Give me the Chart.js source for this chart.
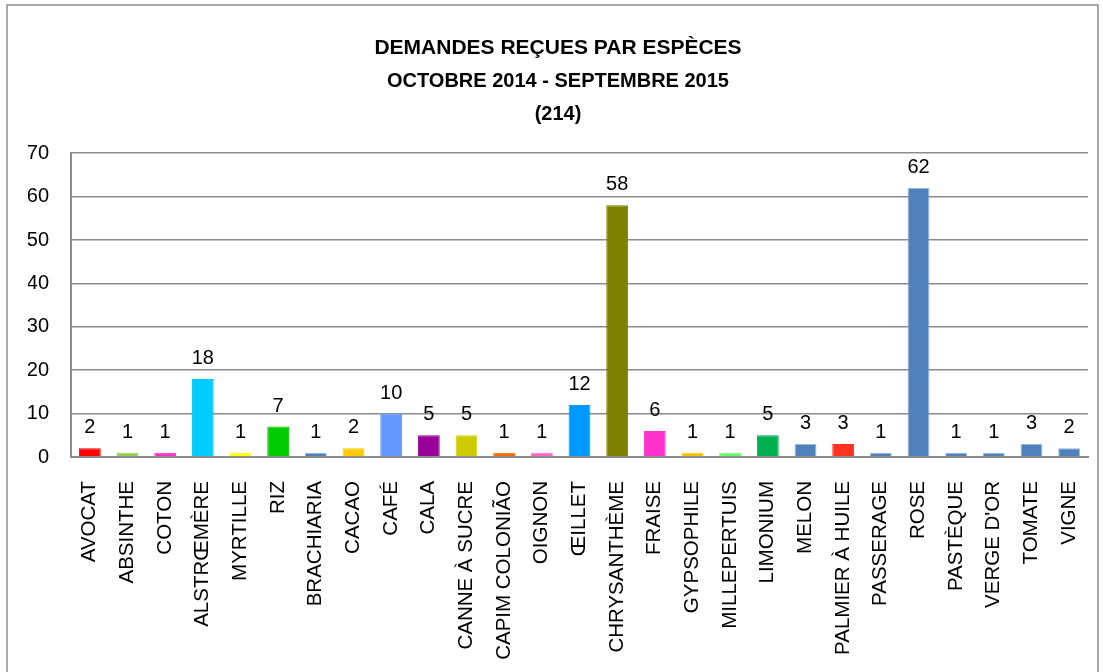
<!DOCTYPE html>
<html>
<head>
<meta charset="utf-8">
<script src="https://cdn.jsdelivr.net/npm/chart.js@4"></script>
<style>
  html, body { margin: 0; padding: 0; background: #fff; }
  #wrap { width: 1103px; height: 672px; }
</style>
</head>
<body>
<div id="wrap"><canvas id="especes" width="1103" height="672"></canvas></div>
<script>
const especes = ["AVOCAT", "ABSINTHE", "COTON", "ALSTRŒMÈRE", "MYRTILLE", "RIZ", "BRACHIARIA", "CACAO", "CAFÉ", "CALA",
  "CANNE À SUCRE", "CAPIM COLONIÃO", "OIGNON", "ŒILLET", "CHRYSANTHÈME", "FRAISE", "GYPSOPHILE", "MILLEPERTUIS",
  "LIMONIUM", "MELON", "PALMIER À HUILE", "PASSERAGE", "ROSE", "PASTÈQUE", "VERGE D'OR", "TOMATE", "VIGNE"];
const demandes = [2, 1, 1, 18, 1, 7, 1, 2, 10, 5, 5, 1, 1, 12, 58, 6, 1, 1, 5, 3, 3, 1, 62, 1, 1, 3, 2];
const yTicks = [0, 10, 20, 30, 40, 50, 60, 70];

const couleurs = ["#ff0000", "#92d050", "#ff33cc", "#00ccff", "#ffff00", "#00cc00", "#4f81bd", "#ffcc00", "#6699ff", "#990099",
  "#cccc00", "#ff6600", "#ff66cc", "#0099ff", "#808000", "#ff33cc", "#ffc000", "#66ff66",
  "#00b050", "#4f81bd", "#ff3322", "#4f81bd", "#4f81bd", "#4f81bd", "#4f81bd", "#4f81bd", "#4f81bd"];
const bordures = couleurs.map(c => c === "#4f81bd" ? "#9bb7da" : c);

// Plugins

const cadre = {
  id: 'cadre',
  beforeDraw: (chart) => {
    const {ctx} = chart;
    ctx.save();
    ctx.fillStyle = 'white';
    ctx.fillRect(0, 0, chart.width, chart.height);
    ctx.strokeStyle = '#8c8c8c';
    ctx.lineWidth = 1.5;
    ctx.strokeRect(7, 5, chart.width - 12, chart.height + 20);
    ctx.restore();
  }
};

const valeurs = {
  id: 'valeurs',
  afterDatasetsDraw: (chart) => {
    const {ctx} = chart;
    const meta = chart.getDatasetMeta(0);
    ctx.save();
    ctx.fillStyle = '#000';
    ctx.font = '20px "Liberation Sans", Arial, sans-serif';
    ctx.textAlign = 'center';
    ctx.textBaseline = 'alphabetic';
    meta.data.forEach((bar, i) => {
      ctx.fillText(String(chart.data.datasets[0].data[i]), bar.x, bar.y - 15);
    });
    ctx.restore();
  }
};

const especesChart = new Chart(
  document.getElementById('especes'),
  {
    type: 'bar',
    plugins: [cadre, valeurs],
    data: {
      labels: especes,
      datasets: [
        {
          label: 'Demandes',
          data: demandes,
          backgroundColor: couleurs,
          borderColor: bordures,
          borderWidth: 1,
          categoryPercentage: 1,
          barPercentage: 0.58
        }
      ]
    },
    options: {
      responsive: false,
      animation: false,
      layout: {
        padding: { left: 28, right: 15, top: 0, bottom: 0 }
      },
      plugins: {
        legend: { display: false },
        tooltip: { enabled: false },
        title: {
          display: true,
          text: 'DEMANDES REÇUES PAR ESPÈCES',
          color: '#000',
          font: { family: '"Liberation Sans", Arial, sans-serif', size: 21, weight: 'bold', lineHeight: 1.2 },
          padding: { top: 36, bottom: 0 }
        },
        subtitle: {
          display: true,
          text: ['OCTOBRE 2014 - SEPTEMBRE 2015', '(214)'],
          color: '#000',
          font: { family: '"Liberation Sans", Arial, sans-serif', size: 20, weight: 'bold', lineHeight: 1.65 },
          padding: { top: 4, bottom: 22 }
        }
      },
      scales: {
        x: {
          grid: { display: false, drawTicks: false },
          border: { display: true, color: '#8c8c8c', width: 2 },
          ticks: {
            color: '#000',
            font: { family: '"Liberation Sans", Arial, sans-serif', size: 20.5 },
            minRotation: 90,
            maxRotation: 90,
            autoSkip: false,
            padding: 24
          },
          afterFit: (scale) => {
            scale.height = 215;
            scale.paddingLeft = 0;
            scale.paddingRight = 0;
          }
        },
        y: {
          min: 0,
          max: 70,
          afterBuildTicks: (scale) => { scale.ticks = yTicks.map(v => ({ value: v })); },
          grid: { color: '#8c8c8c', lineWidth: 1.5, drawTicks: false },
          border: { display: true, color: '#8c8c8c', width: 2 },
          ticks: {
            color: '#000',
            font: { family: '"Liberation Sans", Arial, sans-serif', size: 20 },
            padding: 22
          },
          afterFit: (scale) => { scale.width = 43; }
        }
      }
    }
  }
);
</script>
</body>
</html>
